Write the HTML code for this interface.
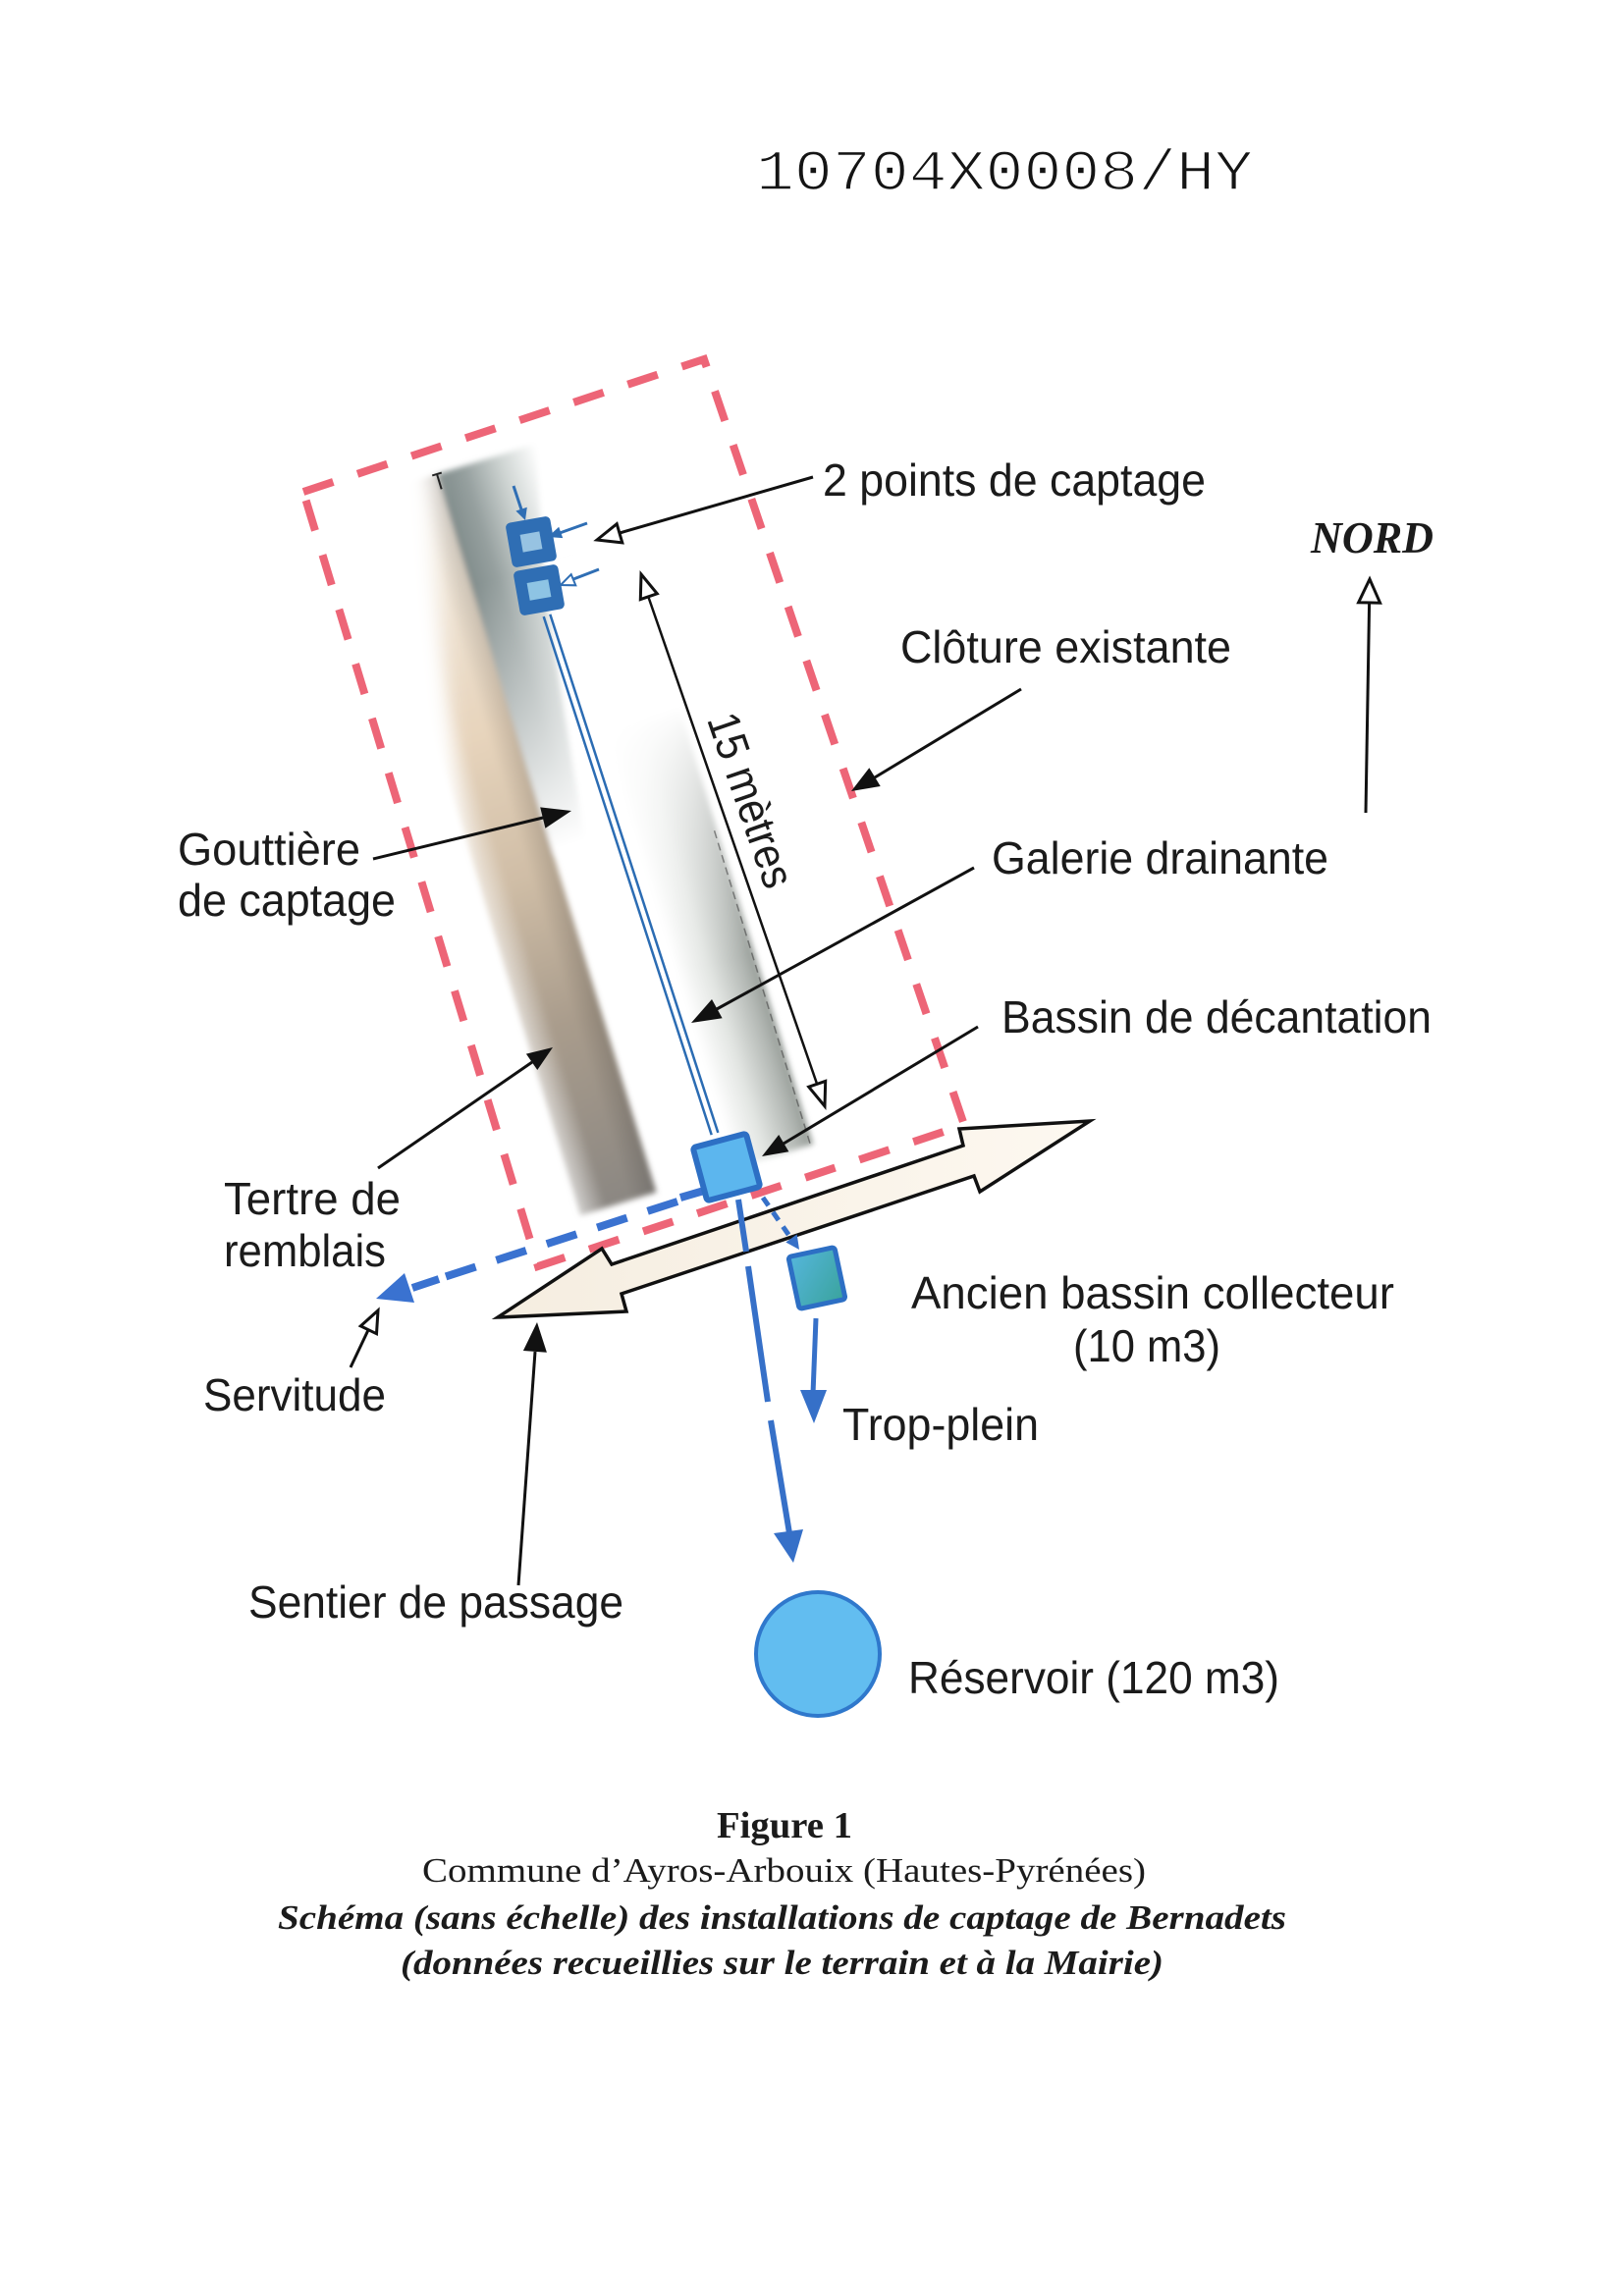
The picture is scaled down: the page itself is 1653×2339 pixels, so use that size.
<!DOCTYPE html>
<html>
<head>
<meta charset="utf-8">
<style>
html,body{margin:0;padding:0;background:#ffffff;}
svg{display:block;}
.lbl{font-family:"Liberation Sans",Arial,sans-serif;font-size:46px;fill:#1b1b1b;}
.cap{font-family:"Liberation Serif","Times New Roman",serif;fill:#1b1b1b;}
</style>
</head>
<body>
<svg width="1653" height="2339" viewBox="0 0 1653 2339" xmlns="http://www.w3.org/2000/svg">
<defs>
  <filter id="soft" x="-20%" y="-20%" width="140%" height="140%"><feGaussianBlur stdDeviation="3"/></filter>
  <filter id="soft8" x="-30%" y="-30%" width="160%" height="160%"><feGaussianBlur stdDeviation="10"/></filter>
  <linearGradient id="beigeV" gradientUnits="userSpaceOnUse" x1="0" y1="0" x2="0" y2="765">
    <stop offset="0" stop-color="#f3eee8"/>
    <stop offset="0.12" stop-color="#efe5d7"/>
    <stop offset="0.35" stop-color="#e7d4bc"/>
    <stop offset="0.55" stop-color="#cfbda6"/>
    <stop offset="0.75" stop-color="#a99c8c"/>
    <stop offset="1" stop-color="#8b8782"/>
  </linearGradient>
  <linearGradient id="beigeH" gradientUnits="userSpaceOnUse" x1="-81" y1="0" x2="0" y2="0">
    <stop offset="0" stop-color="#ffffff" stop-opacity="0.6"/>
    <stop offset="0.35" stop-color="#ffffff" stop-opacity="0"/>
    <stop offset="0.65" stop-color="#000000" stop-opacity="0"/>
    <stop offset="1" stop-color="#000000" stop-opacity="0.15"/>
  </linearGradient>
  <linearGradient id="grayTop" gradientUnits="userSpaceOnUse" x1="-5" y1="0" x2="105" y2="0">
    <stop offset="0" stop-color="#7d8988"/>
    <stop offset="0.3" stop-color="#96a09f"/>
    <stop offset="0.65" stop-color="#cfd5d3"/>
    <stop offset="1" stop-color="#ffffff"/>
  </linearGradient>
  <linearGradient id="fadeTop" gradientUnits="userSpaceOnUse" x1="0" y1="120" x2="0" y2="400">
    <stop offset="0" stop-color="#ffffff" stop-opacity="0"/>
    <stop offset="1" stop-color="#ffffff" stop-opacity="1"/>
  </linearGradient>
  <linearGradient id="grayR" gradientUnits="userSpaceOnUse" x1="85" y1="0" x2="167" y2="0">
    <stop offset="0" stop-color="#ffffff"/>
    <stop offset="0.4" stop-color="#e2e5e2"/>
    <stop offset="0.8" stop-color="#b3b8b4"/>
    <stop offset="1" stop-color="#969c97"/>
  </linearGradient>
  <linearGradient id="fadeR" gradientUnits="userSpaceOnUse" x1="0" y1="298" x2="0" y2="560">
    <stop offset="0" stop-color="#ffffff" stop-opacity="1"/>
    <stop offset="1" stop-color="#ffffff" stop-opacity="0"/>
  </linearGradient>
  <linearGradient id="cream" x1="0" y1="0" x2="1" y2="0">
    <stop offset="0" stop-color="#f5ede0"/>
    <stop offset="1" stop-color="#fdf8f0"/>
  </linearGradient>
  <linearGradient id="teal" x1="0" y1="0" x2="1" y2="1">
    <stop offset="0" stop-color="#55b6dc"/>
    <stop offset="1" stop-color="#3aa39c"/>
  </linearGradient>
</defs>

<!-- Title -->
<text x="770" y="193" font-family="Liberation Mono, monospace" font-size="58" fill="#141414" stroke="#ffffff" stroke-width="1.6" textLength="506" lengthAdjust="spacingAndGlyphs">10704X0008/HY</text>

<!-- Column (gouttière / galerie shading) -->
<g transform="translate(445 483) rotate(-17)" filter="url(#soft)">
  <polygon points="-5,0 105,0 70,150 35,400 -5,400" fill="url(#grayTop)"/>
  <rect x="-5" y="120" width="115" height="285" fill="url(#fadeTop)"/>
  <rect x="85" y="300" width="82" height="465" fill="url(#grayR)"/>
  <rect x="85" y="298" width="82" height="262" fill="url(#fadeR)"/>
  <rect x="-81" y="0" width="81" height="765" fill="url(#beigeV)"/>
  <rect x="-81" y="0" width="81" height="765" fill="url(#beigeH)"/>
</g>
<g transform="translate(445 483) rotate(-17)">
  <polygon points="-120,-30 -4,-30 -120,520" fill="#ffffff" filter="url(#soft8)"/>
  <line x1="164" y1="430" x2="164" y2="765" stroke="#444" stroke-width="1.5" stroke-dasharray="8 5" opacity="0.6"/>
  <line x1="0" y1="0" x2="0" y2="16" stroke="#222" stroke-width="2"/>
  <line x1="-5" y1="0" x2="5" y2="0" stroke="#222" stroke-width="2"/>
</g>

<!-- Fence (clôture) -->
<polygon points="309,501 717,366 982,1146 548,1290" fill="none" stroke="#eb5468" stroke-width="8" stroke-dasharray="32 26" opacity="0.9"/>

<!-- Galerie drainante double line -->
<line x1="553.7" y1="628.1" x2="724.7" y2="1156.1" stroke="#2b6cb3" stroke-width="2.5"/>
<line x1="560.3" y1="625.9" x2="731.3" y2="1153.9" stroke="#2b6cb3" stroke-width="2.5"/>

<!-- Capture points -->
<g>
  <rect x="-23" y="-23" width="46" height="46" rx="5" fill="#2f6eb4" transform="translate(541 552) rotate(-10)"/>
  <rect x="-10" y="-9" width="20" height="18" fill="#a9d2ea" opacity="0.85" transform="translate(541 552) rotate(-10)"/>
  <rect x="-23" y="-23" width="46" height="46" rx="5" fill="#2f6eb4" transform="translate(549 601) rotate(-10)"/>
  <rect x="-11" y="-9" width="22" height="18" fill="#9fd3ec" opacity="0.85" transform="translate(549 601) rotate(-10)"/>
  <line x1="523" y1="495" x2="532" y2="522" stroke="#2f6eb4" stroke-width="3"/>
  <polygon points="535,530 536.8,516.7 525.4,520.5" fill="#2f6eb4"/>
  <line x1="598" y1="533" x2="570" y2="543" stroke="#2f6eb4" stroke-width="3"/>
  <polygon points="558,547 569.2,536.7 573.2,548.1" fill="#2f6eb4"/>
  <line x1="610" y1="580" x2="584" y2="590" stroke="#2f6eb4" stroke-width="3"/>
  <polygon points="571,596 581.7,585.1 586.3,596.3" fill="#ffffff" stroke="#2f6eb4" stroke-width="2"/>
</g>

<!-- Servitude blue dashed line -->
<line x1="690" y1="1224" x2="440" y2="1305" stroke="#3a72d0" stroke-width="8" stroke-dasharray="32 22"/>
<line x1="693" y1="1220" x2="717" y2="1213" stroke="#3a72d0" stroke-width="8"/>
<polygon points="383,1323 422,1327 412,1297" fill="#3a72d0"/>
<line x1="420" y1="1312" x2="447" y2="1303" stroke="#3a72d0" stroke-width="8"/>

<!-- Bassin de décantation -->
<g transform="translate(740 1189) rotate(-15)">
  <rect x="-28" y="-28" width="56" height="56" rx="3" fill="#5cb6ee" stroke="#2d6fc4" stroke-width="6"/>
</g>

<!-- Big double arrow (sentier) -->
<polygon points="507,1342 613,1272 623,1288 981,1167 977,1150 1110,1142 998,1214 992,1198 633,1318 638,1336" fill="url(#cream)" stroke="#111" stroke-width="3.5" stroke-linejoin="miter"/>

<!-- Line to reservoir -->
<g stroke="#3670c8" stroke-width="6" stroke-linecap="butt">
  <line x1="752" y1="1222" x2="760" y2="1275"/>
  <line x1="762" y1="1290" x2="782" y2="1428"/>
  <line x1="785" y1="1447" x2="804" y2="1562"/>
</g>
<polygon points="808,1592 818,1558 788,1562" fill="#3670c8"/>

<!-- Connector to ancien bassin -->
<line x1="777" y1="1220" x2="806" y2="1262" stroke="#3670c8" stroke-width="5" stroke-dasharray="10 8"/>
<polygon points="814,1273 811.7,1257.5 800.3,1265.5" fill="#3670c8"/>

<!-- Ancien bassin collecteur -->
<g transform="translate(832 1302) rotate(-12)">
  <rect x="-24" y="-27" width="48" height="54" rx="3" fill="url(#teal)" stroke="#2d6fc4" stroke-width="5"/>
</g>

<!-- Trop-plein -->
<line x1="831" y1="1343" x2="828" y2="1420" stroke="#3670c8" stroke-width="5"/>
<polygon points="829,1450 842,1416 815,1416" fill="#3670c8"/>

<!-- Reservoir -->
<circle cx="833" cy="1685" r="63" fill="#62bdf0" stroke="#2f78cc" stroke-width="4"/>

<!-- Black pointers -->
<g stroke="#111" stroke-width="3" fill="none">
  <line x1="828" y1="486" x2="631" y2="543"/>
  <line x1="660" y1="607" x2="832" y2="1104" stroke-width="2.5"/>
  <line x1="1040" y1="702" x2="891" y2="792"/>
  <line x1="380" y1="875" x2="553" y2="833"/>
  <line x1="992" y1="884" x2="730" y2="1028"/>
  <line x1="996" y1="1046" x2="798" y2="1165"/>
  <line x1="385" y1="1190" x2="542" y2="1082"/>
  <line x1="357" y1="1393" x2="375" y2="1355"/>
  <line x1="528" y1="1615" x2="545" y2="1377"/>
  <line x1="1391" y1="828" x2="1394.6" y2="614"/>
</g>
<!-- hollow heads -->
<g fill="#ffffff" stroke="#111" stroke-width="3" stroke-linejoin="miter">
  <polygon points="608,550 628.2,533.7 633.8,552.9"/>
  <polygon points="653,585 669.3,604.8 652.3,610.6"/>
  <polygon points="840,1127 840.7,1101.4 823.7,1107.2"/>
  <polygon points="385,1335 383.5,1358.7 367.3,1350.9"/>
  <polygon points="1395,590 1405.6,614.2 1383.6,613.8"/>
</g>
<!-- filled heads -->
<g fill="#111">
  <polygon points="867,806 885.3,782.2 896.7,801"/>
  <polygon points="582,826 555.4,843.8 550.2,822.4"/>
  <polygon points="704,1042 725,1018 735.6,1037.2"/>
  <polygon points="776,1178 793.2,1156 803.4,1173.2"/>
  <polygon points="563,1067 547.3,1090 535.9,1073.6"/>
  <polygon points="547,1347 556.9,1377.7 532.9,1376"/>
</g>

<!-- 15 mètres -->
<text class="lbl" font-size="44" text-anchor="middle" transform="translate(765 815) rotate(71)" y="16" textLength="185" lengthAdjust="spacingAndGlyphs">15 mètres</text>

<!-- Labels -->
<text class="lbl" x="838" y="505" textLength="390" lengthAdjust="spacingAndGlyphs">2 points de captage</text>
<text class="lbl" x="917" y="675" textLength="337" lengthAdjust="spacingAndGlyphs">Clôture existante</text>
<text class="lbl" x="181" y="881" textLength="186" lengthAdjust="spacingAndGlyphs">Gouttière</text>
<text class="lbl" x="181" y="933" textLength="222" lengthAdjust="spacingAndGlyphs">de captage</text>
<text class="lbl" x="1010" y="890" textLength="343" lengthAdjust="spacingAndGlyphs">Galerie drainante</text>
<text class="lbl" x="1020" y="1052" textLength="438" lengthAdjust="spacingAndGlyphs">Bassin de décantation</text>
<text class="lbl" x="228" y="1237" textLength="180" lengthAdjust="spacingAndGlyphs">Tertre de</text>
<text class="lbl" x="228" y="1290" textLength="165" lengthAdjust="spacingAndGlyphs">remblais</text>
<text class="lbl" x="207" y="1437" textLength="186" lengthAdjust="spacingAndGlyphs">Servitude</text>
<text class="lbl" x="253" y="1648" textLength="382" lengthAdjust="spacingAndGlyphs">Sentier de passage</text>
<text class="lbl" x="928" y="1333" textLength="492" lengthAdjust="spacingAndGlyphs">Ancien bassin collecteur</text>
<text class="lbl" x="1093" y="1387" textLength="150" lengthAdjust="spacingAndGlyphs">(10 m3)</text>
<text class="lbl" x="858" y="1467" textLength="200" lengthAdjust="spacingAndGlyphs">Trop-plein</text>
<text class="lbl" x="925" y="1725" textLength="378" lengthAdjust="spacingAndGlyphs">Réservoir (120 m3)</text>

<!-- NORD -->
<text x="1335" y="563" font-family="Liberation Serif, serif" font-weight="bold" font-style="italic" font-size="46" fill="#1b1b1b" textLength="125" lengthAdjust="spacingAndGlyphs">NORD</text>

<!-- Caption -->
<text class="cap" x="730" y="1872" font-size="38" font-weight="bold" textLength="138" lengthAdjust="spacingAndGlyphs">Figure 1</text>
<text class="cap" x="430" y="1917" font-size="35" textLength="737" lengthAdjust="spacingAndGlyphs">Commune d’Ayros-Arbouix (Hautes-Pyrénées)</text>
<text class="cap" x="283" y="1965" font-size="35" font-weight="bold" font-style="italic" textLength="1027" lengthAdjust="spacingAndGlyphs">Schéma (sans échelle) des installations de captage de Bernadets</text>
<text class="cap" x="408" y="2011" font-size="35" font-weight="bold" font-style="italic" textLength="777" lengthAdjust="spacingAndGlyphs">(données recueillies sur le terrain et à la Mairie)</text>
</svg>
</body>
</html>
